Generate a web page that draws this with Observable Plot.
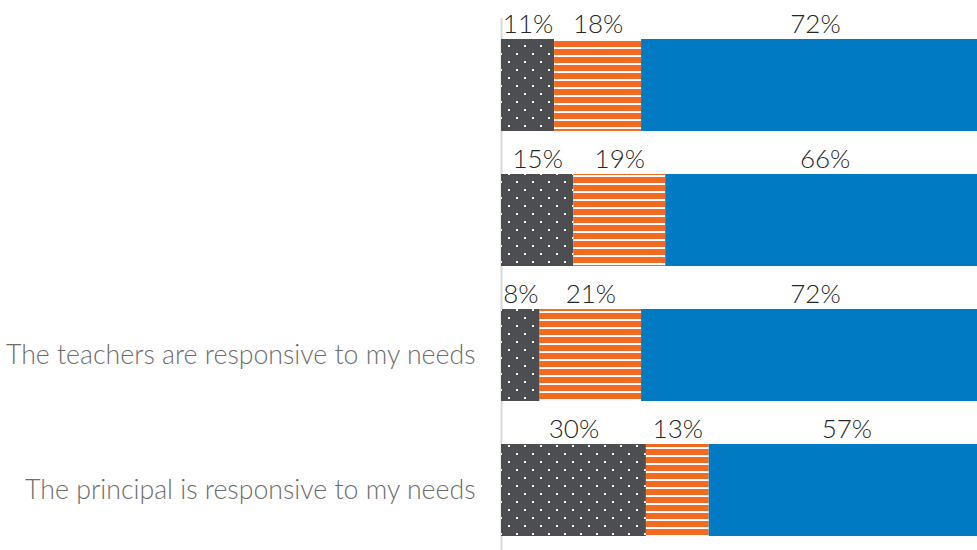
<!DOCTYPE html>
<html><head><meta charset="utf-8">
<script src="https://cdn.jsdelivr.net/npm/d3@7"></script>
<script src="https://cdn.jsdelivr.net/npm/@observablehq/plot@0.6"></script>
<style>html,body{margin:0;padding:0;background:#fff;overflow:hidden}</style>
</head><body>
<svg width="0" height="0" style="position:absolute"><defs>
  <pattern id="dots" patternUnits="userSpaceOnUse" width="16" height="16">
    <rect width="16" height="16" fill="#4d4e51"/>
    <rect x="12" y="13" width="2" height="2" fill="#fff"/>
    <rect x="4" y="5" width="2" height="2" fill="#fff"/>
  </pattern>
  <pattern id="stripes" patternUnits="userSpaceOnUse" width="8" height="8">
    <rect width="8" height="8" fill="#f26a22"/>
    <rect y="-1" width="8" height="2" fill="#fff"/>
    <rect y="7" width="8" height="2" fill="#fff"/>
  </pattern>
</defs></svg>
<div id="chart"></div>
<script>
const rows = ["row1", "row2", "row3", "row4"];
const rowLabels = ["", "", "The teachers are responsive to my needs", "The principal is responsive to my needs"];
const series = ["Disagree", "Neutral", "Agree"];
const disagree = [11, 15, 8, 30];
const neutral = [18, 19, 21, 13];
const agree = [72, 66, 72, 57];

const data = [];
rows.forEach((r, i) => {
  [disagree, neutral, agree].forEach((arr, j) => data.push({row: r, series: series[j], value: arr[i]}));
});
const labelOf = new Map(rows.map((r, i) => [r, rowLabels[i]]));

const chart = Plot.plot({
  width: 977, height: 550,
  marginLeft: 501, marginRight: 0, marginTop: 18, marginBottom: 0,
  style: {fontFamily: "Lato", fontWeight: 300, background: "#fff"},
  x: {domain: [0, 100], range: [501, 984], axis: null},
  y: {domain: rows, range: [16.6, 558], paddingInner: 0.32, paddingOuter: 0.16, axis: null},
  color: {domain: series, range: ["url(#dots)", "url(#stripes)", "#007ac2"]},
  marks: [
    Plot.ruleX([0], {stroke: "#d9d9d9", strokeWidth: 2}),
    Plot.barX(data, Plot.stackX({x: "value", y: "row", fill: "series"})),
    Plot.text(data, Plot.stackX({x: "value", y: "row", z: "series", text: d => d.value + "%",
      lineAnchor: "bottom", dy: -52.5, fill: "#262626", fontSize: 26})),
    Plot.axisY({tickSize: 0, tickPadding: 26, fontSize: 26.7, fill: "#6e6e6e", label: null,
      tickFormat: d => labelOf.get(d)})
  ]
});
document.getElementById("chart").append(chart);
</script>
</body></html>
